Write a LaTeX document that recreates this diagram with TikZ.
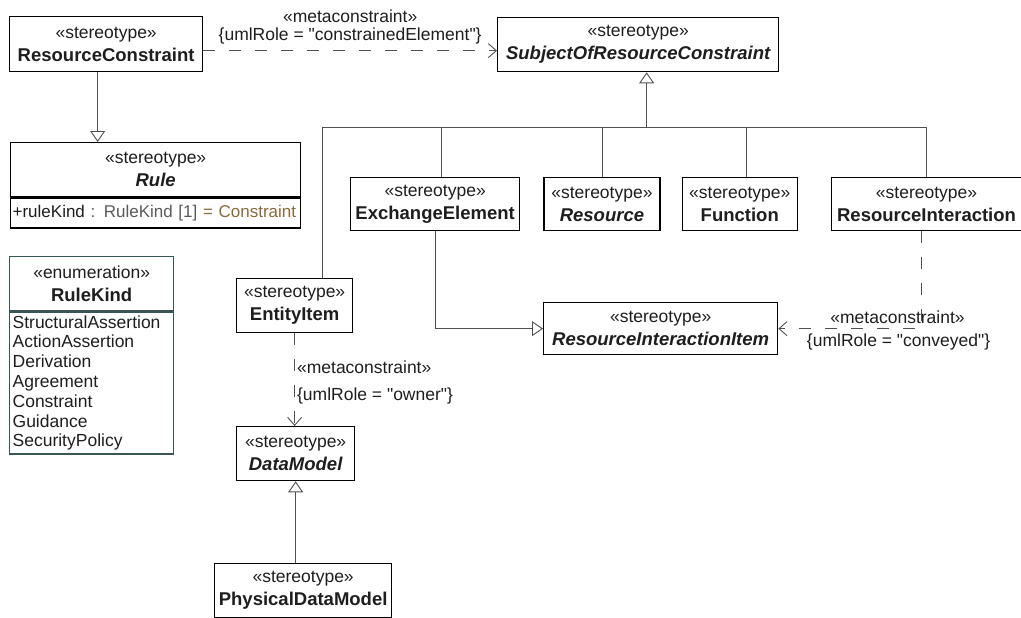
\documentclass[tikz,border=0pt]{standalone}
\usepackage{fontspec}
\setmainfont{Liberation Sans}
\usepackage{xcolor}
\usetikzlibrary{arrows.meta,positioning}
\definecolor{umlline}{HTML}{505050}
\definecolor{umltext}{HTML}{1E1E1E}
\definecolor{enumline}{HTML}{3A5555}
\definecolor{attrtype}{HTML}{5A5A5A}
\definecolor{attrval}{HTML}{8A6A3A}
\newcommand{\stereo}[1]{{\fontsize{17.5}{23}\selectfont «#1»}}
\newcommand{\uname}[1]{{\fontsize{18.5}{23}\selectfont\bfseries #1}}
\newcommand{\aname}[1]{{\fontsize{18.5}{23}\selectfont\bfseries\itshape #1}}
\newcommand{\qt}{\textquotedbl}

\begin{document}
\begin{tikzpicture}[
    x=1pt, y=-1pt,
    stbox/.style={draw=black, line width=1.3pt, fill=white, align=center, inner sep=2pt, minimum height=54pt, text=umltext, font=\fontsize{18}{23}\selectfont},
    body/.style={draw=black, line width=1.3pt, inner sep=3pt, align=left, text=umltext, font=\fontsize{17.5}{19.8}\selectfont},
    lbl/.style={text=umltext, inner sep=2pt, font=\fontsize{17.5}{18}\selectfont},
    conn/.style={draw=umlline, line width=0.9pt},
    genarrow/.style={conn, -{Triangle[open, length=11pt, width=15pt]}},
    deparrow/.style={conn, dash pattern=on 12pt off 14pt, -{Straight Barb[length=8pt, width=14pt]}}
]
\useasboundingbox (0,0) rectangle (1021,618);
\node[stbox, minimum width=193pt, minimum height=55pt, anchor=north west] (rc) at (9,16) {\stereo{stereotype}\\\uname{ResourceConstraint}};
\node[stbox, minimum width=281pt, anchor=north west] (subj) at (497,17) {\stereo{stereotype}\\\aname{SubjectOfResourceConstraint}};
\node[stbox, minimum width=290pt, anchor=north west] (ruleHead) at (10,142) {\stereo{stereotype}\\\aname{Rule}};
\node[body, text width=286pt, inner sep=2pt, minimum height=30pt, below=0pt of ruleHead, font=\fontsize{17}{19.8}\selectfont] (ruleBody) {\mbox{+ruleKind \textcolor{attrtype}{: RuleKind [1]} \textcolor{attrval}{= Constraint}}};
\node[stbox, draw=enumline, minimum width=164pt, anchor=north west] (enumHead) at (9,256) {\stereo{enumeration}\\\uname{RuleKind}};
\node[body, draw=enumline, text width=158pt, minimum height=142pt, below=0pt of enumHead] (enumBody) {StructuralAssertion\\ActionAssertion\\Derivation\\Agreement\\Constraint\\Guidance\\SecurityPolicy};
\node[stbox, minimum width=169pt, minimum height=53pt, anchor=north west] (exch) at (350,177) {\stereo{stereotype}\\\uname{ExchangeElement}};
\node[stbox, minimum width=116pt, minimum height=53pt, right=23pt of exch] (res) {\stereo{stereotype}\\\aname{Resource}};
\node[stbox, minimum width=115pt, minimum height=53pt, right=21pt of res] (fun) {\stereo{stereotype}\\\uname{Function}};
\node[stbox, minimum width=190pt, minimum height=53pt, right=33pt of fun] (resint) {\stereo{stereotype}\\\uname{ResourceInteraction}};
\node[stbox, minimum width=116pt, anchor=north west] (entity) at (236,278) {\stereo{stereotype}\\\uname{EntityItem}};
\node[stbox, minimum width=234pt, minimum height=52pt, anchor=north west] (rii) at (543,302) {\stereo{stereotype}\\\aname{ResourceInteractionItem}};
\node[stbox, minimum width=118pt, anchor=north west] (dm) at (236,426) {\stereo{stereotype}\\\aname{DataModel}};
\node[stbox, minimum width=177pt, anchor=north west] (pdm) at (214,563) {\stereo{stereotype}\\\uname{PhysicalDataModel}};
\coordinate (bus) at ([xshift=8.5pt, yshift=-55pt]subj.south);
\draw[genarrow] (bus) -- ([xshift=8.5pt]subj.south);
\draw[conn] ([xshift=28pt]entity.north) |- (bus);
\draw[conn] ([xshift=6.5pt]exch.north) |- (bus);
\draw[conn] (res.north) |- (bus);
\draw[conn] ([xshift=6.5pt]fun.north) |- (bus);
\draw[conn] (resint.north) |- (bus);
\draw[genarrow] ([xshift=-8.5pt]rc.south) -- ([xshift=-8.5pt]rc.south |- ruleHead.north);
\draw[deparrow] ([yshift=-6.5pt]rc.east) -- ([yshift=-6.5pt]rc.east -| subj.west)
    node[lbl, midway, above=4pt, align=center] (ceLbl) {«metaconstraint»\\\{umlRole = \qt constrainedElement\qt\}};
\draw[genarrow] (exch.south) |- (rii.west);
\draw[deparrow] ([xshift=-5pt]resint.south) |- (rii.east)
    node[lbl, pos=0.5, above=3pt, xshift=-24pt] (convLbl) {«metaconstraint»}
    node[lbl, pos=0.5, below=3pt, xshift=-23pt] (convRole) {\{umlRole = \qt conveyed\qt\}};
\draw[deparrow] (entity.south) -- (entity.south |- dm.north)
    node[lbl, pos=0.37, right] (ownLbl) {«metaconstraint»}
    node[lbl, pos=0.68, right] (ownRole) {\{umlRole = \qt owner\qt\}};
\draw[genarrow] (dm.south |- pdm.north) -- (dm.south);
\end{tikzpicture}
\end{document}
